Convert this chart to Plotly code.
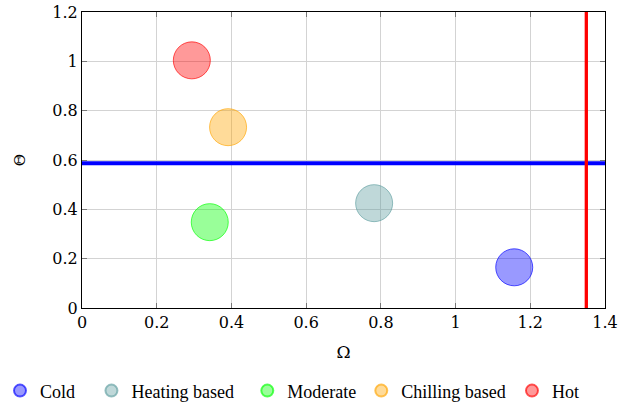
import plotly.graph_objects as go

# Data
names = ["Cold", "Heating based", "Moderate", "Chilling based", "Hot"]
omega = [1.157, 0.782, 0.342, 0.391, 0.294]
theta = [0.165, 0.425, 0.348, 0.733, 1.004]
colors = [(0, 0, 255), (95, 158, 160), (0, 255, 0), (255, 165, 0), (255, 0, 0)]
theta_threshold = 0.587
omega_threshold = 1.35
x_ticks = [0, 0.2, 0.4, 0.6, 0.8, 1, 1.2, 1.4]
y_ticks = [0, 0.2, 0.4, 0.6, 0.8, 1, 1.2]

# legend placement (container fraction of each legend entry's left edge)
legend_x = [-0.004, 0.142, 0.384, 0.561, 0.795]

FONT = "DejaVu Serif"
LFONT = "Liberation Serif"

fig = go.Figure()

for i, (n, xv, yv, c) in enumerate(zip(names, omega, theta, colors)):
    lg = "legend" if i == 0 else "legend%d" % (i + 1)
    fig.add_trace(go.Scatter(
        x=[xv], y=[yv], mode="markers", name=n, legend=lg,
        marker=dict(size=37, color="rgba(%d,%d,%d,0.4)" % c,
                    line=dict(color="rgba(%d,%d,%d,0.65)" % c, width=1)),
    ))

fig.add_trace(go.Scatter(x=[0, 1.4], y=[theta_threshold, theta_threshold], mode="lines",
                         line=dict(color="#0000ff", width=4), showlegend=False, hoverinfo="skip"))
fig.add_trace(go.Scatter(x=[omega_threshold, omega_threshold], y=[0, 1.2], mode="lines",
                         line=dict(color="#ff0000", width=3.3), showlegend=False, hoverinfo="skip"))

axis_common = dict(showgrid=True, gridcolor="#d3d3d3", gridwidth=1, zeroline=False,
                   showline=True, linecolor="black", linewidth=1, mirror="ticks",
                   ticks="inside", ticklen=5, tickcolor="#777777", automargin=False,
                   tickfont=dict(family=FONT, size=16, color="black"))

fig.update_xaxes(range=[0, 1.4], tickvals=x_ticks, ticktext=[str(v) for v in x_ticks],
                 title=dict(text="Ω", font=dict(family=FONT, size=17, color="black"), standoff=14),
                 **axis_common)
fig.update_yaxes(range=[0, 1.2], tickvals=y_ticks, ticktext=[str(v) for v in y_ticks],
                 title=dict(text="Θ", font=dict(family=FONT, size=15, color="black"), standoff=23),
                 **axis_common)

legend_common = dict(orientation="h", xref="container", yref="container",
                     y=0.03, yanchor="middle", xanchor="left",
                     font=dict(family=LFONT, size=18, color="black"),
                     itemsizing="constant", itemwidth=30,
                     bgcolor="rgba(0,0,0,0)", borderwidth=0)

layout_legends = {}
for i, lx in enumerate(legend_x):
    key = "legend" if i == 0 else "legend%d" % (i + 1)
    layout_legends[key] = dict(x=lx, **legend_common)

fig.update_layout(
    width=644, height=403,
    margin=dict(l=82, r=39, t=12, b=95),
    plot_bgcolor="white", paper_bgcolor="white",
    font=dict(family=FONT, color="black"),
    **layout_legends,
)

fig.write_html("out.html")
